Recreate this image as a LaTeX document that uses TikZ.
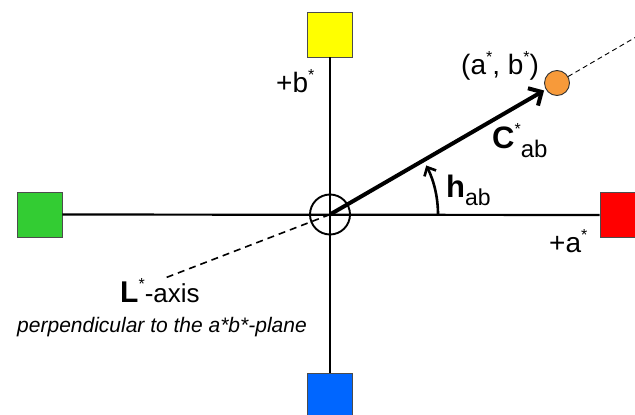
\documentclass[tikz,border=0pt]{standalone}
\usepackage{fontspec}
\setmainfont{Liberation Sans}
\usetikzlibrary{arrows.meta}
\newcommand{\fs}[1]{\fontsize{#1}{#1}\selectfont}
\newcommand{\sstar}{\raisebox{12pt}{\fs{16}*}}
\definecolor{cyel}{HTML}{FFFF00}
\definecolor{cgrn}{HTML}{33CC33}
\definecolor{cblu}{HTML}{0066FF}
\definecolor{cred}{HTML}{FF0000}
\definecolor{corg}{HTML}{F79A3A}
\begin{document}
\begin{tikzpicture}[x=1pt,y=-1pt,
  sq/.style={draw=black!70, line width=0.8pt, minimum size=45pt, inner sep=0pt},
  axisline/.style={line width=2.2pt},
  lbl/.style={inner sep=0pt, anchor=base west, font=\fs{28}}]
\useasboundingbox (0,0) rectangle (635,415);
\clip (0,0) rectangle (635,415);
% squares
\node[sq, fill=cyel] (yel) at (330,34.5) {};
\node[sq, fill=cgrn] (grn) at (39.5,214.5) {};
\node[sq, fill=cred] (red) at (622.5,215) {};
\node[sq, fill=cblu] (blu) at (330,395.5) {};
% centre and point
\node[circle, draw, line width=1.9pt, minimum size=40pt, inner sep=0pt] (o) at (330,214.5) {};
\node[circle, draw=black!80, line width=0.9pt, fill=corg, minimum size=25pt, inner sep=0pt] (p) at (557,83) {};
\coordinate (dtr) at (636,37);
\coordinate (dll) at (165,278);
% axes
\draw[axisline] (grn) -- (red);
\draw[axisline] (yel) -- (blu);
% dashed lines
\draw[line width=0.9pt, dash pattern=on 5pt off 3.5pt] (p) -- (dtr);
\draw[line width=1.6pt, dash pattern=on 7pt off 5pt] (o.center) -- (dll);
% chroma arrow
\draw[line width=4pt, -{Straight Barb[length=10pt,width=20pt]}, shorten >=2pt] (o.center) -- (p);
% hue arc
\coordinate (hs) at (438,214.5);
\draw[line width=2.6pt, -{Straight Barb[length=7pt,width=13pt]}] (hs) arc[start angle=0, end angle=-27, radius=108];
% labels
\node[lbl] (lb) at (276,92) {+b\sstar};
\node[lbl] (la) at (549,252) {+a\sstar};
\node[lbl] (lp) at (461,74) {(a\sstar, b\sstar)};
\node[lbl] (lc) at (492,148) {{\fs{31}\bfseries C}\raisebox{14pt}{\fs{16}*}\raisebox{-9pt}{\fs{24}ab}};
\node[lbl] (lh) at (446,197) {{\fs{31}\bfseries h}\raisebox{-8pt}{\fs{23}ab}};
\node[lbl] (ll) at (120,302) {{\fs{30}\bfseries L}\raisebox{13pt}{\fs{16}*}{\fs{26}-axis}};
\node[inner sep=0pt, anchor=base, font=\fs{21}\itshape] (lpp) at (162,332) {perpendicular to the a*b*-plane};
\end{tikzpicture}
\end{document}
